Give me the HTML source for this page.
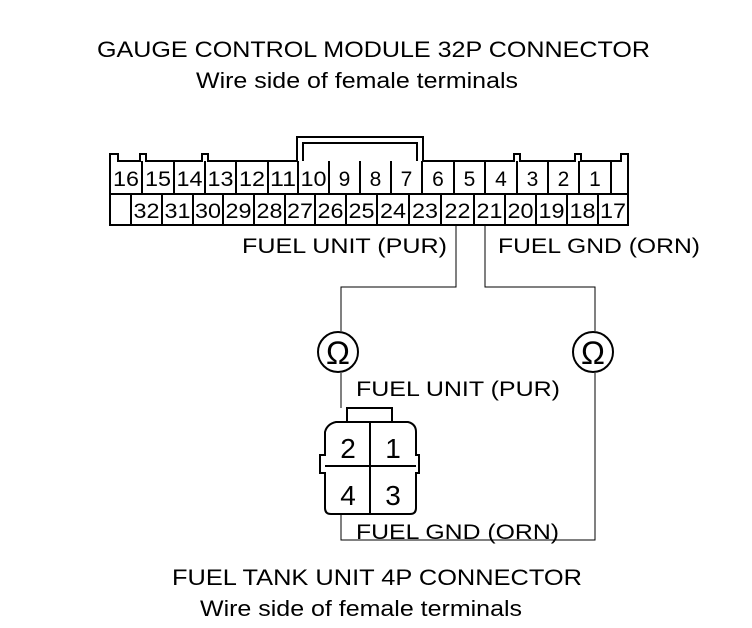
<!DOCTYPE html>
<html><head><meta charset="utf-8"><style>
html,body{margin:0;padding:0;background:#fff;}
svg{display:block;}
text{font-family:"Liberation Sans",sans-serif;fill:#000;}
</style></head><body>
<svg width="752" height="628" viewBox="0 0 752 628" xmlns="http://www.w3.org/2000/svg">
<text x="97" y="57" font-size="22" textLength="553" lengthAdjust="spacingAndGlyphs">GAUGE CONTROL MODULE 32P CONNECTOR</text>
<text x="196" y="88" font-size="22" textLength="322" lengthAdjust="spacingAndGlyphs">Wire side of female terminals</text>

<g fill="none" stroke="#000" stroke-width="2">
<path d="M110,225 V154 H118 V161 H140 V154 H146 V161 H202 V154 H208 V161 H297 V137 H423 V161 H514 V154 H520 V161 H575 V154 H581 V161 H621 V154 H628 V225 Z"/>
<path d="M303,161 V143 H417 V161"/>
<line x1="110" y1="194" x2="628" y2="194"/>
<path d="M142,161V194 M174,161V194 M205,161V194 M236,161V194 M268,161V194 M298,161V194 M329,161V194 M360,161V194 M391,161V194 M422,161V194 M454,161V194 M485,161V194 M517,161V194 M548,161V194 M579,161V194 M611,161V194"/>
<path d="M131,194V225 M162,194V225 M193,194V225 M223,194V225 M254,194V225 M285,194V225 M315,194V225 M346,194V225 M377,194V225 M409,194V225 M441,194V225 M474,194V225 M505,194V225 M536,194V225 M567,194V225 M598,194V225"/>
</g>
<g font-size="21" text-anchor="middle">
<text x="126" y="186" textLength="26" lengthAdjust="spacingAndGlyphs">16</text><text x="158" y="186" textLength="26" lengthAdjust="spacingAndGlyphs">15</text><text x="189.5" y="186" textLength="26" lengthAdjust="spacingAndGlyphs">14</text><text x="220.5" y="186" textLength="26" lengthAdjust="spacingAndGlyphs">13</text><text x="252" y="186" textLength="26" lengthAdjust="spacingAndGlyphs">12</text><text x="283" y="186" textLength="26" lengthAdjust="spacingAndGlyphs">11</text><text x="313.5" y="186" textLength="26" lengthAdjust="spacingAndGlyphs">10</text><text x="344.5" y="186">9</text><text x="375.5" y="186">8</text><text x="406.5" y="186">7</text><text x="438" y="186">6</text><text x="469.5" y="186">5</text><text x="501" y="186">4</text><text x="532.5" y="186">3</text><text x="563.5" y="186">2</text><text x="595" y="186">1</text>
<text x="146.5" y="218" textLength="26" lengthAdjust="spacingAndGlyphs">32</text><text x="177.5" y="218" textLength="26" lengthAdjust="spacingAndGlyphs">31</text><text x="208" y="218" textLength="26" lengthAdjust="spacingAndGlyphs">30</text><text x="238.5" y="218" textLength="26" lengthAdjust="spacingAndGlyphs">29</text><text x="269.5" y="218" textLength="26" lengthAdjust="spacingAndGlyphs">28</text><text x="300" y="218" textLength="26" lengthAdjust="spacingAndGlyphs">27</text><text x="330.5" y="218" textLength="26" lengthAdjust="spacingAndGlyphs">26</text><text x="361.5" y="218" textLength="26" lengthAdjust="spacingAndGlyphs">25</text><text x="393" y="218" textLength="26" lengthAdjust="spacingAndGlyphs">24</text><text x="425" y="218" textLength="26" lengthAdjust="spacingAndGlyphs">23</text><text x="457.5" y="218" textLength="26" lengthAdjust="spacingAndGlyphs">22</text><text x="489.5" y="218" textLength="26" lengthAdjust="spacingAndGlyphs">21</text><text x="520.5" y="218" textLength="26" lengthAdjust="spacingAndGlyphs">20</text><text x="551.5" y="218" textLength="26" lengthAdjust="spacingAndGlyphs">19</text><text x="582.5" y="218" textLength="26" lengthAdjust="spacingAndGlyphs">18</text><text x="613" y="218" textLength="26" lengthAdjust="spacingAndGlyphs">17</text>
</g>

<text x="242" y="253" font-size="21" textLength="205" lengthAdjust="spacingAndGlyphs">FUEL UNIT (PUR)</text>
<text x="498" y="253" font-size="21" textLength="202" lengthAdjust="spacingAndGlyphs">FUEL GND (ORN)</text>

<g fill="none" stroke="#000" stroke-width="1">
<path d="M456,225 V287 H341 V331"/>
<path d="M341,373 V408"/>
<path d="M485,225 V287 H595 V331"/>
<path d="M595,373 V540 H341 V513"/>
</g>
<g fill="none" stroke="#000" stroke-width="2">
<circle cx="338" cy="352" r="20"/>
<circle cx="593" cy="352" r="20"/>
</g>
<g font-size="32" text-anchor="middle">
<text x="338" y="364">Ω</text>
<text x="593" y="364">Ω</text>
</g>
<text x="356" y="396" font-size="21" textLength="204" lengthAdjust="spacingAndGlyphs">FUEL UNIT (PUR)</text>
<text x="356" y="539" font-size="21" textLength="203" lengthAdjust="spacingAndGlyphs">FUEL GND (ORN)</text>

<g fill="none" stroke="#000" stroke-width="2">
<path d="M347,422 V408 H392 V422"/>
<path d="M336,422 H408 Q416,424 416,432 V455 H419 V473 H416 V508 Q416,514 410,514 H331 Q325,514 325,508 V473 H320 V455 H325 V432 Q327,424 336,422 Z"/>
<line x1="370" y1="422" x2="370" y2="514"/>
<line x1="325" y1="466" x2="416" y2="466"/>
</g>
<g font-size="28" text-anchor="middle">
<text x="348" y="458">2</text><text x="393" y="458">1</text>
<text x="348" y="505">4</text><text x="393" y="505">3</text>
</g>

<text x="172" y="585" font-size="22" textLength="410" lengthAdjust="spacingAndGlyphs">FUEL TANK UNIT 4P CONNECTOR</text>
<text x="200" y="616" font-size="22" textLength="322" lengthAdjust="spacingAndGlyphs">Wire side of female terminals</text>
</svg>
</body></html>
